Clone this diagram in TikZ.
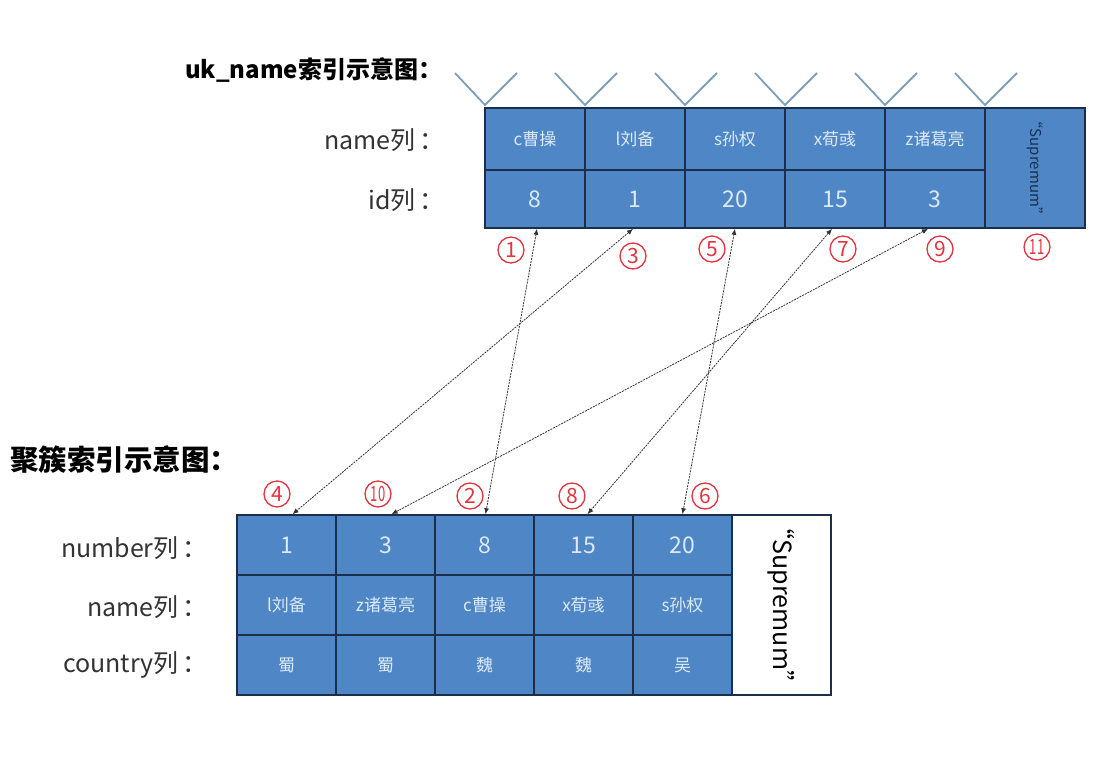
\documentclass[tikz,border=0pt]{standalone}
\usepackage{fontspec}
\setmainfont{Noto Sans CJK SC}
\usetikzlibrary{arrows.meta}
\definecolor{cellblue}{HTML}{4F87C6}
\definecolor{cellborder}{HTML}{1B2F4D}
\definecolor{celltext}{HTML}{DCE9F6}
\definecolor{vcol}{HTML}{7F9FB8}
\definecolor{numred}{HTML}{E2343F}
\definecolor{lblgray}{HTML}{333333}
\tikzset{
  cell/.style={draw=cellborder, line width=1.6pt, fill=cellblue, minimum width=100pt, inner sep=0pt, text=celltext},
  bcell/.style={cell, minimum width=99pt, minimum height=60pt},
  namecell/.style={font=\fontsize{17}{17}\selectfont},
  numcell/.style={font=\fontsize{23}{23}\selectfont},
  lbl/.style={anchor=east, text=lblgray, font=\fontsize{25}{25}\selectfont, inner sep=0pt},
  ttl/.style={anchor=west, text=black, font=\bfseries\fontsize{24}{24}\selectfont, inner sep=0pt},
  circ/.style={circle, draw=numred, line width=1.3pt, text=numred, minimum size=26pt, inner sep=0pt, font=\fontsize{21}{21}\selectfont},
  vmark/.style={draw=vcol, line width=1.8pt},
  conn/.style={draw=black!80, line width=0.8pt, dash pattern=on 2pt off 1pt, {Latex[length=6pt,width=5pt]}-{Latex[length=6pt,width=5pt]}},
}
\newcommand{\twodig}[1]{\scalebox{0.62}[1]{#1}}
\begin{document}
\begin{tikzpicture}[x=1pt,y=-1pt]
\useasboundingbox (0,0) rectangle (1116,772);
\fill[white] (0,0) rectangle (1116,772);

% titles
\node[ttl] (t1) at (185,70) {uk\_name索引示意图：};
\node[ttl, font=\bfseries\fontsize{28.5}{28.5}\selectfont] (t2) at (10,460) {聚簇索引示意图：};

% top labels
\node[lbl] (lname) at (445,140) {name列\,：};
\node[lbl] (lid) at (445,200) {id列\,：};

% V marks
\foreach \i in {0,...,5} {
  \coordinate (v\i) at (485+100*\i,105);
  \draw[vmark] (455+100*\i,73) -- (v\i) -- (517+100*\i,73);
}

% top table
\foreach \i/\nm/\idv in {1/c曹操/8, 2/l刘备/1, 3/s孙权/20, 4/x荀彧/15, 5/z诸葛亮/3} {
  \node[cell, namecell, minimum height=62pt] (tn\i) at (435+100*\i,139) {\nm};
  \node[cell, numcell, minimum height=58pt] (ti\i) at (435+100*\i,199) {\idv};
}
\node[cell, minimum height=120pt] (tsup) at (1035,168) {};
\node[rotate=-90, text=cellborder, font=\fontsize{15}{15}\selectfont, inner sep=0pt] (tsupt) at (1035,168) {“Supremum”};

% bottom labels
\node[lbl] (bnum) at (208,548) {number列\,：};
\node[lbl] (bname) at (208,607) {name列\,：};
\node[lbl] (bcty) at (208,665) {country列\,：};

% bottom table
\foreach \i/\num/\nm/\ct in {1/1/l刘备/蜀, 2/3/z诸葛亮/蜀, 3/8/c曹操/魏, 4/15/x荀彧/魏, 5/20/s孙权/吴} {
  \node[bcell, numcell] (bn\i) at (187.5+99*\i,545) {\num};
  \node[bcell, namecell] (bm\i) at (187.5+99*\i,605) {\nm};
  \node[bcell, namecell] (bc\i) at (187.5+99*\i,665) {\ct};
}
\node[draw=cellborder, line width=1.6pt, fill=white, minimum width=99pt, minimum height=180pt, inner sep=0pt] (bsup) at (781.5,605) {};
\node[rotate=-90, text=black, font=\fontsize{25}{25}\selectfont, inner sep=0pt] (bsupt) at (781.5,605) {“Supremum”};

% circled numbers
\node[circ] (c1) at (511,250) {1};
\node[circ] (c3) at (633,256) {3};
\node[circ] (c5) at (712,249) {5};
\node[circ] (c7) at (843,249) {7};
\node[circ] (c9) at (940,249) {9};
\node[circ] (c11) at (1037,247) {\twodig{11}};
\node[circ] (c4) at (277,494) {4};
\node[circ] (c10) at (378,494) {\twodig{10}};
\node[circ] (c2) at (470,496) {2};
\node[circ] (c8) at (572,496) {8};
\node[circ] (c6) at (705,496) {6};

% connectors
\draw[conn] ([xshift=2pt]ti1.south) -- ([xshift=1pt]bn3.north);
\draw[conn] ([xshift=-2pt]ti2.south) -- ([xshift=6pt]bn1.north);
\draw[conn] (ti3.south) -- (bn5.north);
\draw[conn] ([xshift=-3pt]ti4.south) -- ([xshift=4pt]bn4.north);
\draw[conn] ([xshift=-7pt]ti5.south) -- ([xshift=6pt]bn2.north);
\end{tikzpicture}
\end{document}
